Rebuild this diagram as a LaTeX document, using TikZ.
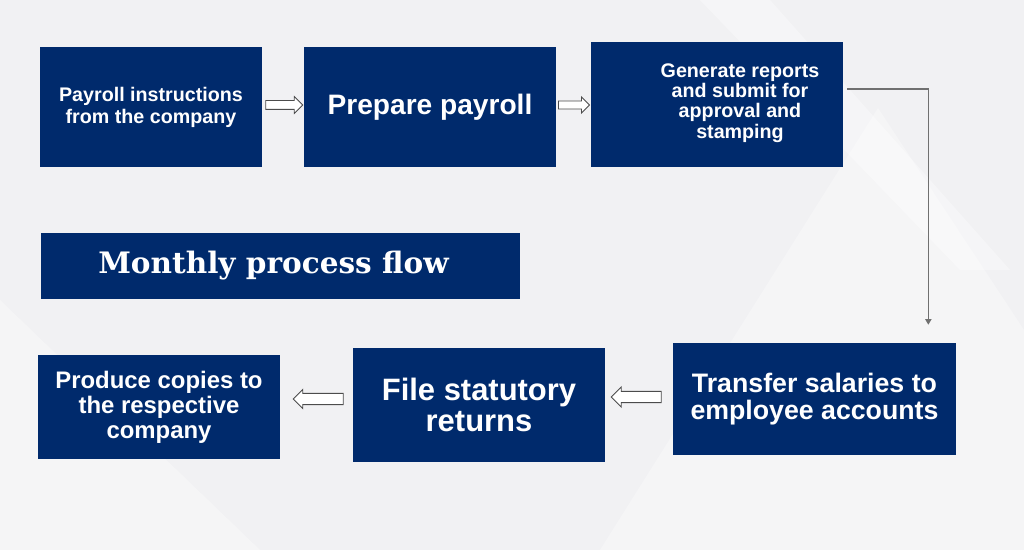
\documentclass[tikz,border=0pt]{standalone}
\usepackage{fontspec}
\setsansfont{Liberation Sans}
\newfontfamily\titlefont{DejaVu Serif}
\usetikzlibrary{shapes.arrows}
\usetikzlibrary{arrows.meta}
\usetikzlibrary{calc}
\definecolor{navy}{RGB}{0,42,108}
\definecolor{paper}{RGB}{241,241,243}
\definecolor{linegray}{RGB}{112,112,112}

\begin{document}
\begin{tikzpicture}[x=0.025cm,y=-0.025cm,>/.tip={Triangle[length=4pt,width=4.5pt]},
	box/.style={fill=navy,text=white,align=center,inner sep=0pt},
	hollow/.style={single arrow,draw=black!70,fill=white,line width=0.6pt,inner xsep=0pt}]
	\fill[paper] (0,0) rectangle (1024,550);
	\fill[white,opacity=0.35] (700,0) -- (770,0) -- (1010,270) -- (960,270) -- cycle;
	\fill[white,opacity=0.3] (878,108) -- (1024,330) -- (1024,550) -- (600,550) -- cycle;
	\fill[white,opacity=0.3] (0,300) -- (260,550) -- (0,550) -- cycle;

	\draw (151,107) node (B1) [box,minimum width=5.55cm,minimum height=3cm,
		font=\sffamily\bfseries\fontsize{14}{15.6}\selectfont]
		{Payroll instructions\\from the company};
	\draw (430,107) node (B2) [box,minimum width=6.3cm,minimum height=3cm,
		font=\sffamily\bfseries\fontsize{20}{22}\selectfont]
		{Prepare payroll};
	\draw (717,104.5) node (B3) [box,minimum width=6.3cm,minimum height=3.125cm] {};
	\draw (740,103) node (B3txt) [box,fill=none,
		font=\sffamily\bfseries\fontsize{14}{14.4}\selectfont]
		{Generate reports\\and submit for\\approval and\\stamping};
	\draw (280.5,266) node (title) [box,minimum width=11.975cm,minimum height=1.65cm,
		font=\titlefont\bfseries\fontsize{21}{23}\selectfont]
		{\hspace*{-0.35cm}Monthly process flow};
	\draw (814.5,399) node (B4) [box,minimum width=7.075cm,minimum height=2.8cm,
		font=\sffamily\bfseries\fontsize{19}{19.6}\selectfont]
		{Transfer salaries to\\employee accounts};
	\draw (479,405) node (B5) [box,minimum width=6.3cm,minimum height=2.85cm,
		font=\sffamily\bfseries\fontsize{22}{22.5}\selectfont]
		{File statutory\\returns};
	\draw (159,407) node (B6) [box,minimum width=6.05cm,minimum height=2.6cm,
		font=\sffamily\bfseries\fontsize{17}{17.8}\selectfont]
		{Produce copies to\\the respective\\company};

	\draw (282,105) node (A1) [hollow,minimum height=0.925cm,inner ysep=0.1cm,single arrow head extend=0.1cm] {};
	\draw (572,105) node (A2) [hollow,minimum height=0.775cm,inner ysep=0.09cm,single arrow head extend=0.1cm] {};
	\draw (321,399) node (A3) [hollow,shape border rotate=180,minimum height=1.25cm,inner ysep=0.13cm,single arrow head extend=0.1cm] {};
	\draw (639,397) node (A4) [hollow,shape border rotate=180,minimum height=1.25cm,inner ysep=0.13cm,single arrow head extend=0.11cm] {};

	\draw[->,linegray,line width=0.8pt] ($(B3.east)+(4,-15.5)$) -| ($(B4.north east)+(-28,-18)$);
\end{tikzpicture}
\end{document}
